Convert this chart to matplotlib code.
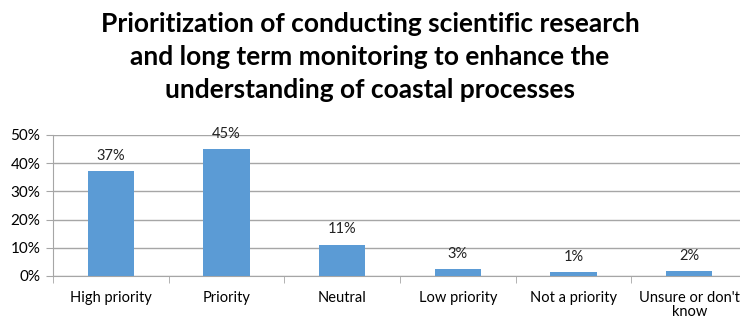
import matplotlib.pyplot as plt
from matplotlib.ticker import FixedLocator, PercentFormatter

plt.rcParams['font.family'] = ['Lato', 'DejaVu Sans']

categories = ["High priority", "Priority", "Neutral", "Low priority",
              "Not a priority", "Unsure or don't\nknow"]
values = [37.2, 45.0, 11.1, 2.4, 1.3, 1.8]
labels = ["37%", "45%", "11%", "3%", "1%", "2%"]

fig = plt.figure(figsize=(7.4, 3.22), dpi=100)
ax = fig.add_axes([0.0716, 0.143, 0.938, 0.438])

x = range(len(categories))
bars = ax.bar(x, values, width=0.4, color="#5B9BD5", zorder=3)

for b, lab in zip(bars, labels):
    ax.annotate(lab, (b.get_x() + b.get_width() / 2, b.get_height()),
                xytext=(0, 6), textcoords="offset points",
                ha="center", va="bottom", fontsize=10.5, color="#222222",
                annotation_clip=False)

ax.set_ylim(0, 50)
ax.set_xlim(-0.5, len(categories) - 0.5)
ax.set_yticks(range(0, 51, 10))
ax.yaxis.set_major_formatter(PercentFormatter(decimals=0))
ax.grid(axis="y", color="#A6A6A6", linewidth=1, zorder=0)

ax.set_xticks(list(x))
ax.set_xticklabels(categories, fontsize=10.5, linespacing=1.0)
ax.tick_params(axis="x", length=0, pad=11)
ax.xaxis.set_minor_locator(FixedLocator([i - 0.5 for i in range(len(categories) + 1)]))
ax.tick_params(axis="x", which="minor", length=5, color="#A6A6A6")
ax.tick_params(axis="y", labelsize=11, length=5, color="#A6A6A6", pad=4)

for s in ["top", "right"]:
    ax.spines[s].set_visible(False)
ax.spines["left"].set_color("#A6A6A6")
ax.spines["bottom"].set_color("#A6A6A6")

fig.text(0.5, 0.962, "Prioritization of conducting scientific research\n"
         "and long term monitoring to enhance the\n"
         "understanding of coastal processes",
         ha="center", va="top", fontsize=19, fontweight="bold",
         linespacing=1.45)

fig.savefig("out.png", dpi=100)
